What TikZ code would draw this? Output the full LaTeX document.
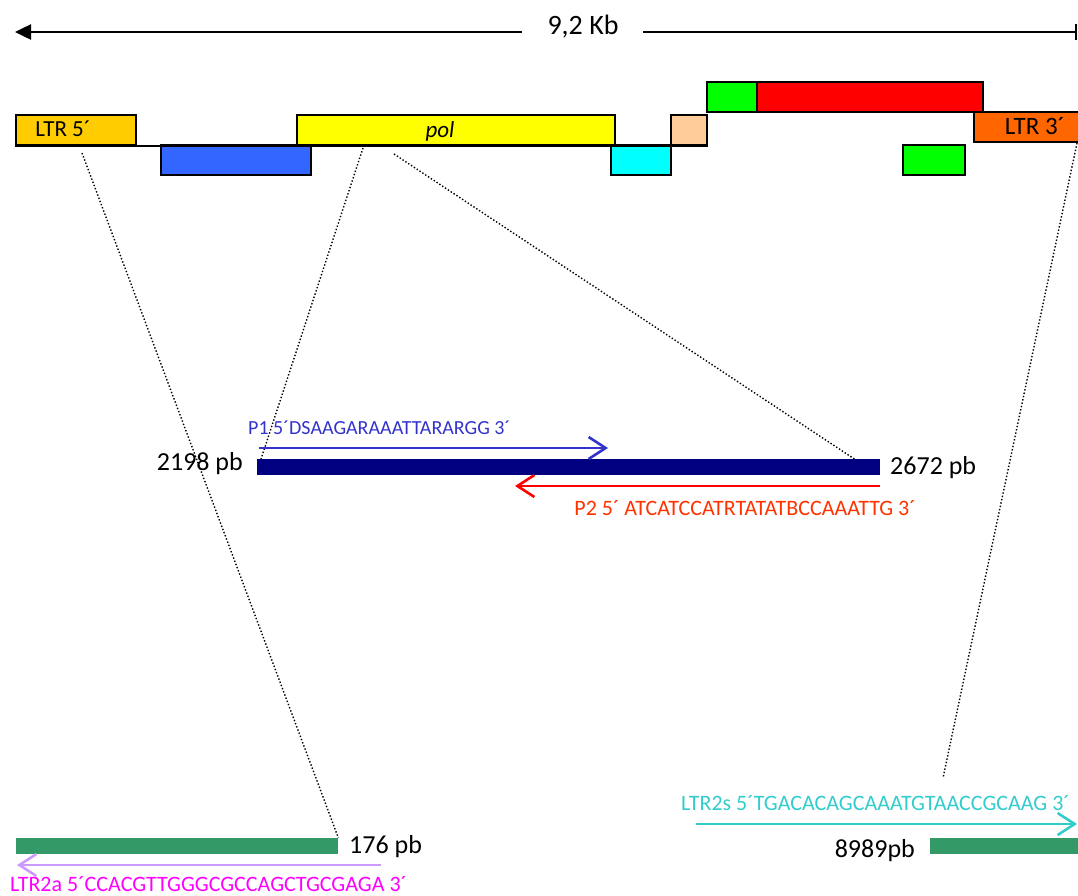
\documentclass[tikz,border=0pt]{standalone}
\usepackage{fontspec}
\setmainfont{Carlito}
\usetikzlibrary{arrows.meta}
\definecolor{ltrfive}{HTML}{FFCC00}
\definecolor{gagblue}{HTML}{3366FF}
\definecolor{polyellow}{HTML}{FFFF00}
\definecolor{orfcyan}{HTML}{00FFFF}
\definecolor{orfpeach}{HTML}{FFCC99}
\definecolor{orfgreen}{HTML}{00FF00}
\definecolor{envred}{HTML}{FF0000}
\definecolor{ltrthree}{HTML}{FF6600}
\definecolor{ampnavy}{HTML}{000080}
\definecolor{ampgreen}{HTML}{339966}
\definecolor{pone}{HTML}{3333CC}
\definecolor{ptwo}{HTML}{FF3300}
\definecolor{ptwoline}{HTML}{FF0000}
\definecolor{ltrtwoa}{HTML}{FF00FF}
\definecolor{ltrtwoaline}{HTML}{CC99FF}
\definecolor{ltrtwos}{HTML}{33CCCC}
\tikzset{
  gene/.style={draw=black, line width=2pt, inner sep=0pt, anchor=north west},
  genelabel/.style={font=\fontsize{23}{23}\selectfont, inner sep=0pt, anchor=base},
  amplicon/.style={inner sep=0pt, anchor=north west},
  guide/.style={dotted, line width=1.4pt},
  primer/.style={line width=2.6pt, -{Straight Barb[length=17pt,width=22pt,line width=2.6pt]}},
  bplabel/.style={font=\fontsize{26}{26}\selectfont, inner sep=0pt},
  primerlabel/.style={font=\fontsize{22}{22}\selectfont, inner sep=0pt}
}
\begin{document}
\begin{tikzpicture}[x=1pt,y=-1pt]
\useasboundingbox (0,0) rectangle (1078,895);

% length of the provirus
\node[font=\fontsize{28}{28}\selectfont, inner sep=0pt] (kb) at (583,27) {9,2 Kb};
\coordinate (kbLa) at (522,32);
\coordinate (kbLb) at (15,32);
\coordinate (kbRa) at (643,32);
\coordinate (kbRb) at (1077,32);
\draw[line width=2.5pt, -{Triangle[length=16pt,width=15pt]}] (kbLa) -- (kbLb);
\draw[line width=2.5pt, -{Bar[width=16pt,line width=2.5pt]}] (kbRa) -- (kbRb);

% genome map
\node[gene, fill=ltrfive, minimum width=120pt, minimum height=30pt] (ltr5) at (15,114) {};
\node[gene, fill=gagblue, minimum width=150pt, minimum height=30pt] (gag) at (160,144) {};
\node[gene, fill=polyellow, minimum width=318pt, minimum height=30pt] (pol) at (296,114) {};
\node[gene, fill=orfcyan, minimum width=60pt, minimum height=30pt] (cyan) at (610,144) {};
\node[gene, fill=orfpeach, minimum width=36pt, minimum height=30pt] (peach) at (670,114) {};
\node[gene, fill=orfgreen, minimum width=50pt, minimum height=30pt] (gtop) at (706,81) {};
\node[gene, fill=envred, minimum width=226pt, minimum height=30pt] (env) at (756,81) {};
\node[gene, fill=ltrthree, minimum width=110pt, minimum height=30pt] (ltr3) at (973,111) {};
\node[gene, fill=orfgreen, minimum width=62pt, minimum height=30pt] (gbot) at (902,144) {};
\draw[line width=2pt] (ltr5.south west) -- (peach.south east);

\node[genelabel] (ltr5t) at (63,136) {LTR 5´};
\node[genelabel, font=\fontsize{23}{23}\selectfont\itshape] (polt) at (440,137) {pol};
\node[genelabel, font=\fontsize{25}{25}\selectfont] (ltr3t) at (1035,134) {LTR 3´};

% amplified fragments
\node[amplicon, fill=ampnavy, minimum width=623pt, minimum height=16pt] (polamp) at (257,459) {};
\node[amplicon, fill=ampgreen, minimum width=322pt, minimum height=16pt] (ltramp) at (16,838) {};
\node[amplicon, fill=ampgreen, minimum width=150pt, minimum height=16pt] (ltrsamp) at (930,838) {};

\node[bplabel, anchor=east] (b2198) at (243,464) {2198 pb};
\node[bplabel, anchor=west] (b2672) at (890,468) {2672 pb};
\node[bplabel, anchor=west] (b176) at (349,847) {176 pb};
\node[bplabel, anchor=east] (b8989) at (915,851) {8989pb};

% dotted guides from the map to the fragments
\coordinate (gA) at (82,153);
\coordinate (gB) at (363,148);
\coordinate (gC) at (394,154);
\coordinate (gD) at (1077,143);
\coordinate (gDend) at (943,778);
\draw[guide] (gA) -- (ltramp.north east);
\draw[guide] (gB) -- ([xshift=4pt]polamp.north west);
\draw[guide] (gC) -- ([xshift=-26pt]polamp.north east);
\draw[guide] (gD) -- (gDend);

% primers
\coordinate (p1s) at (259,448);
\coordinate (p1e) at (608,448);
\coordinate (p2s) at (880,486);
\coordinate (p2e) at (515,486);
\coordinate (las) at (381,865);
\coordinate (lae) at (17,865);
\coordinate (lss) at (696,824);
\coordinate (lse) at (1077,824);
\draw[primer, pone] (p1s) -- (p1e);
\draw[primer, ptwoline] (p2s) -- (p2e);
\draw[primer, ltrtwoaline] (las) -- (lae);
\draw[primer, ltrtwos] (lss) -- (lse);

\node[primerlabel, pone, anchor=west, font=\fontsize{20}{20}\selectfont] (p1t) at (248,428) {P1 5´DSAAGARAAATTARARGG 3´};
\node[primerlabel, ptwo, anchor=east] (p2t) at (916,508) {P2 5´ ATCATCCATRTATATBCCAAATTG 3´};
\node[primerlabel, ltrtwoa, anchor=west] (lat) at (10,884) {LTR2a 5´CCACGTTGGGCGCCAGCTGCGAGA 3´};
\node[primerlabel, ltrtwos, anchor=east] (lst) at (1070,803) {LTR2s 5´TGACACAGCAAATGTAACCGCAAG 3´};
\end{tikzpicture}
\end{document}
